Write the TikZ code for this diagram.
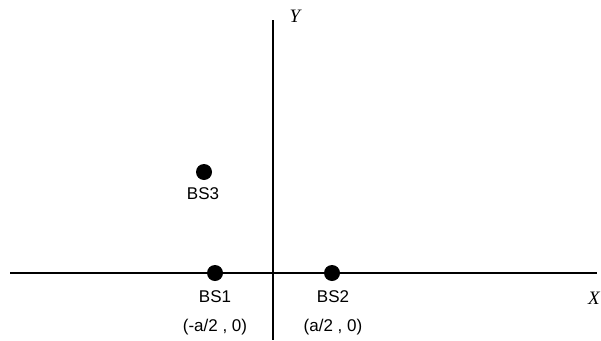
\documentclass[tikz,border=0pt]{standalone}
\usepackage{fontspec}
\setmainfont{Liberation Sans}
\newfontfamily\serifit{Liberation Serif}
\begin{document}
\begin{tikzpicture}[x=1pt,y=-1pt,
  axis/.style={line width=2.2pt},
  bs/.style={circle,fill=black,inner sep=0pt,minimum size=16pt},
  lbl/.style={font=\fontsize{17}{19}\selectfont,inner sep=0pt},
  axlbl/.style={font=\fontsize{19}{21}\selectfont\serifit\itshape,inner sep=0pt}]
\useasboundingbox (0,0) rectangle (601,340);
\coordinate (xl) at (10,273);
\coordinate (xr) at (597,273);
\coordinate (yt) at (273,20);
\coordinate (yb) at (273,340);
\draw[axis] (xl) -- (xr);
\draw[axis] (yt) -- (yb);
\node[axlbl] (ylab) at (295,16) {Y};
\node[axlbl] (xlab) at (594,298) {X};
\node[bs] (bs1) at (215,273) {};
\node[bs] (bs2) at (332,273) {};
\node[bs] (bs3) at (204,172) {};
\node[lbl] (l1) at (215,297) {BS1};
\node[lbl] (l2) at (333,297) {BS2};
\node[lbl] (l3) at (203,194) {BS3};
\node[lbl] (c1) at (215,327) {(-a/2 , 0)};
\node[lbl] (c2) at (333,327) {(a/2 , 0)};
\end{tikzpicture}
\end{document}
